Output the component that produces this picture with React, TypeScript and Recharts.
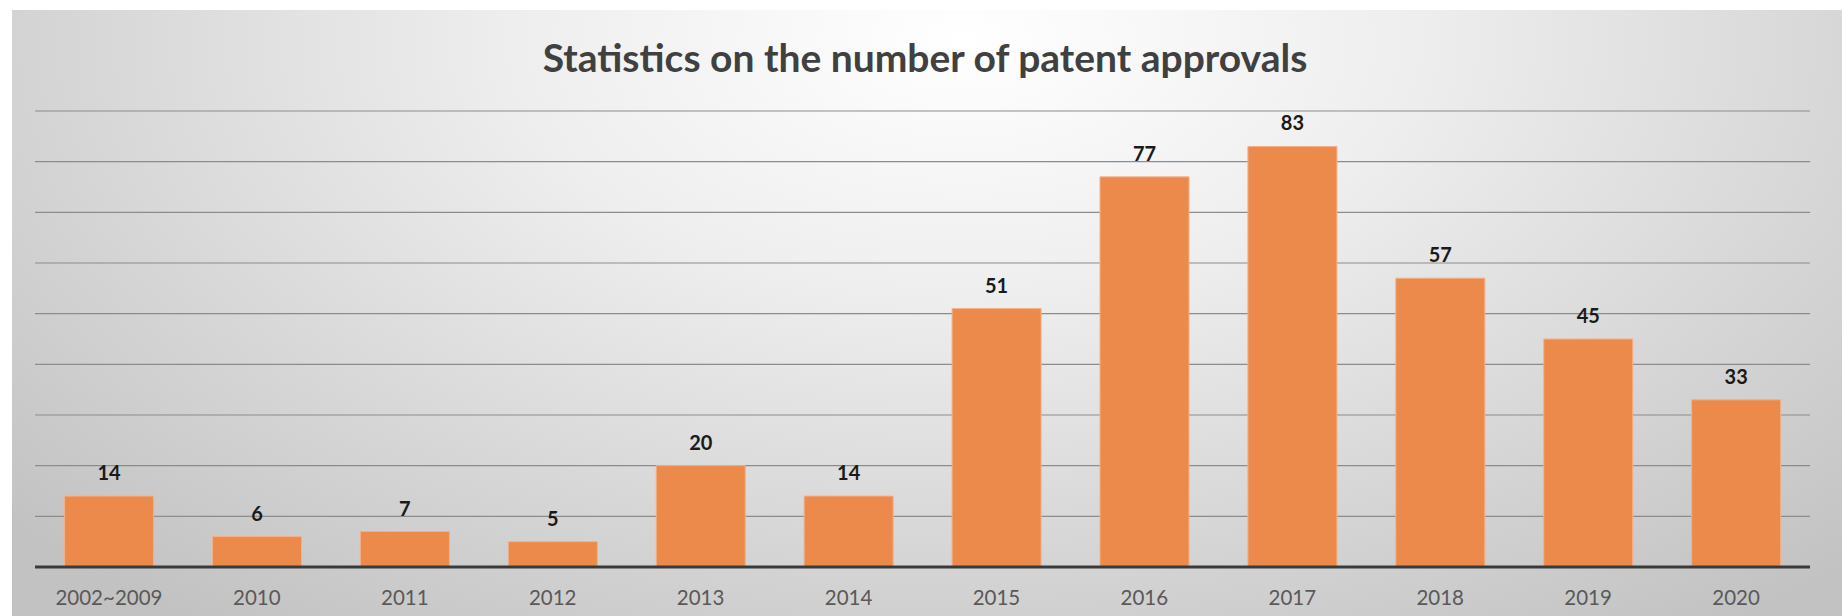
import React from 'react';
import { BarChart, Bar, XAxis, YAxis, CartesianGrid, LabelList } from 'recharts';

const years = ['2002~2009', '2010', '2011', '2012', '2013', '2014', '2015', '2016', '2017', '2018', '2019', '2020'];
const approvals = [14, 6, 7, 5, 20, 14, 51, 77, 83, 57, 45, 33];
const yTicks = [0, 10, 20, 30, 40, 50, 60, 70, 80, 90];

const data = years.map((year, i) => ({ year, count: approvals[i] }));

const FONT = 'Lato, "Open Sans", sans-serif';

export default function App() {
  return (
    <div style={{ position: 'absolute', left: 0, top: 0, width: 1842, height: 616, background: '#fff', overflow: 'hidden' }}>
      {/* grey slide-style panel behind the chart */}
      <div
        style={{
          position: 'absolute',
          left: 12,
          top: 10,
          width: 1830,
          height: 606,
          background: 'radial-gradient(ellipse 70% 120% at 52% 5%, #ffffff 0%, #eeeeee 35%, #d6d6d6 70%, #c2c2c2 100%)',
        }}
      />
      <div
        style={{
          position: 'absolute',
          left: 0,
          top: 34,
          width: 1850,
          textAlign: 'center',
          fontFamily: FONT,
          fontWeight: 700,
          fontSize: 39,
          color: '#404040',
        }}
      >
        Statistics on the number of patent approvals
      </div>
      <div style={{ position: 'absolute', left: 0, top: 0 }}>
        <BarChart
          width={1842}
          height={616}
          data={data}
          margin={{ top: 111, right: 32, left: 35, bottom: 5 }}
          barCategoryGap="20%"
        >
          <CartesianGrid vertical={false} stroke="#8c8c8c" strokeWidth={1.2} />
          <YAxis hide domain={[0, 90]} ticks={yTicks} />
          <XAxis
            dataKey="year"
            height={44}
            tickLine={false}
            axisLine={{ stroke: '#3a3a3a', strokeWidth: 3 }}
            tick={{ fill: '#595959', fontSize: 20.5, fontFamily: FONT }}
            tickMargin={17}
            interval={0}
          />
          <Bar dataKey="count" fill="#EC8A4B" stroke="#F3B088" strokeWidth={1} isAnimationActive={false}>
            <LabelList
              dataKey="count"
              position="top"
              offset={16}
              fill="#1a1a1a"
              fontSize={20}
              fontWeight={700}
              fontFamily={FONT}
            />
          </Bar>
        </BarChart>
      </div>
    </div>
  );
}
